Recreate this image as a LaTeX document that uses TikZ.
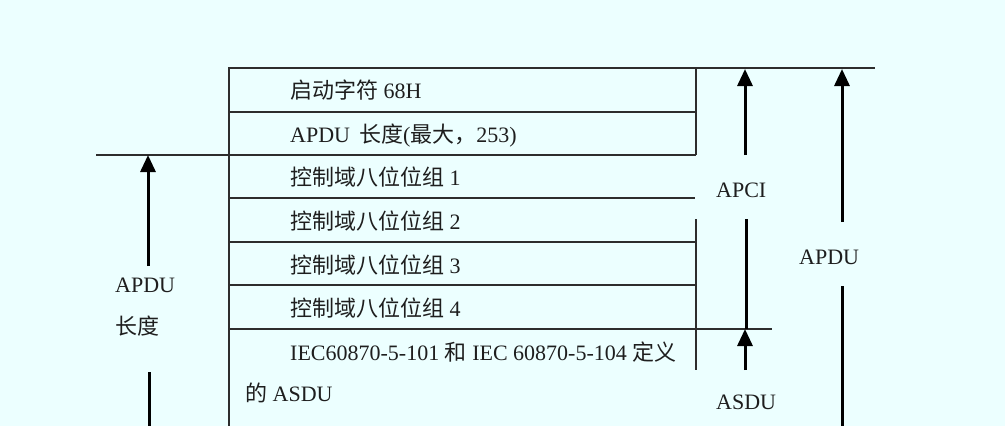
\documentclass[tikz,border=0pt]{standalone}
\usepackage{fontspec}
\setmainfont{Liberation Serif}
\newfontfamily\cjk{Noto Sans CJK SC}
\usetikzlibrary{arrows.meta}
\definecolor{bg}{RGB}{236,255,255}
\definecolor{ink}{RGB}{30,30,30}
\definecolor{rule}{RGB}{45,45,45}
\tikzset{
  txt/.style={inner sep=0pt, anchor=base west, text=ink, font=\fontsize{22}{26}\selectfont},
  lbl/.style={inner sep=0pt, anchor=base west, text=ink, font=\fontsize{22}{26}\selectfont},
  boxline/.style={draw=rule, line width=1.3pt},
  shaft/.style={draw=black, line width=3pt},
  uparrow/.style={draw=black, line width=3pt, -{Triangle[width=15pt,length=17pt]}}
}
\begin{document}
\begin{tikzpicture}[x=1pt,y=-1pt]
\useasboundingbox (0,0) rectangle (1005,426);
\fill[bg] (0,0) rectangle (1005,426);

% box frame
\coordinate (tl) at (229,68);
\coordinate (bl) at (229,426);
\coordinate (topext) at (875,68);
\draw[boxline] (bl) -- (tl) -- (topext);
\coordinate (r1a) at (696,68);
\coordinate (r1b) at (696,155);
\draw[boxline] (r1a) -- (r1b);
\coordinate (r2a) at (696,219);
\coordinate (r2b) at (696,370);
\draw[boxline] (r2a) -- (r2b);
% row lines
\coordinate (h1l) at (229,112); \coordinate (h1r) at (696,112);
\draw[boxline] (h1l) -- (h1r);
\coordinate (h2l) at (96,155); \coordinate (h2r) at (696,155);
\draw[boxline] (h2l) -- (h2r);
\coordinate (h3l) at (229,198); \coordinate (h3r) at (695,198);
\draw[boxline] (h3l) -- (h3r);
\coordinate (h4l) at (229,242); \coordinate (h4r) at (696,242);
\draw[boxline] (h4l) -- (h4r);
\coordinate (h5l) at (229,285); \coordinate (h5r) at (696,285);
\draw[boxline] (h5l) -- (h5r);
\coordinate (h6l) at (229,329); \coordinate (h6r) at (772,329);
\draw[boxline] (h6l) -- (h6r);

% row texts
\node[txt] (t1) at (290,98) {{\cjk 启动字符} 68H};
\node[txt] (t2) at (290,142) {APDU\hspace{9pt}{\cjk 长度}({\cjk 最大，}253)};
\node[txt] (t3) at (290,185) {{\cjk 控制域八位位组} 1};
\node[txt] (t4) at (290,229) {{\cjk 控制域八位位组} 2};
\node[txt] (t5) at (290,273) {{\cjk 控制域八位位组} 3};
\node[txt] (t6) at (290,316) {{\cjk 控制域八位位组} 4};
\node[txt] (t7) at (290,360) {IEC60870-5-101 {\cjk 和} IEC 60870-5-104 {\cjk 定义}};
\node[txt] (t8) at (245,401) {{\cjk 的} ASDU};

% left APDU length arrow
\node[lbl] (lapdu) at (115,292) {APDU};
\node[lbl] (llen) at (115,334) {\cjk 长度};
\coordinate (la1) at (148,266); \coordinate (la2) at (148,155);
\draw[uparrow] (la1) -- (la2);
\coordinate (la3) at (149,372); \coordinate (la4) at (149,426);
\draw[shaft] (la3) -- (la4);

% APCI arrow
\node[lbl] (apci) at (716,197) {APCI};
\coordinate (ca1) at (745,155); \coordinate (ca2) at (745,69);
\draw[uparrow] (ca1) -- (ca2);
\coordinate (ca3) at (746,219); \coordinate (ca4) at (746,329);
\draw[shaft] (ca3) -- (ca4);

% ASDU arrow
\node[lbl] (asdu) at (716,409) {ASDU};
\coordinate (sa1) at (745,370); \coordinate (sa2) at (745,329);
\draw[uparrow] (sa1) -- (sa2);

% APDU arrow right
\node[lbl] (rapdu) at (799,264) {APDU};
\coordinate (ra1) at (842,222); \coordinate (ra2) at (842,69);
\draw[uparrow] (ra1) -- (ra2);
\coordinate (ra3) at (842,286); \coordinate (ra4) at (842,426);
\draw[shaft] (ra3) -- (ra4);
\end{tikzpicture}
\end{document}
